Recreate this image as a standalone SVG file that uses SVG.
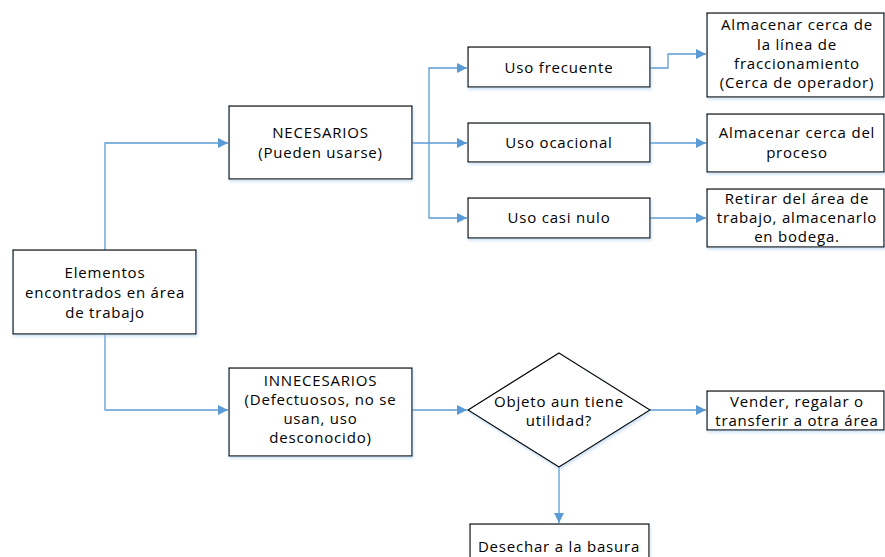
<svg xmlns="http://www.w3.org/2000/svg" width="885" height="557" viewBox="0 0 885 557">
  <defs>
    <marker id="arrow" viewBox="0 0 10 10" refX="10" refY="5" markerWidth="10" markerHeight="10" markerUnits="userSpaceOnUse" orient="auto">
      <path d="M0,0 L10,5 L0,10 Z" fill="#5B9BD5"/>
    </marker>
    <filter id="shadow" x="-10%" y="-10%" width="130%" height="140%">
      <feDropShadow dx="1" dy="2" stdDeviation="1.5" flood-color="#9DC3E6" flood-opacity="0.5"/>
    </filter>
  </defs>
  <style>
    .box { fill: #ffffff; stroke: #000000; stroke-width: 1.2; filter: url(#shadow); }
    .lbl { font-family: "Open Sans", "Liberation Sans", sans-serif; font-size: 15px; letter-spacing: 0.8px; fill: #000000; text-anchor: middle; }
    .conn { fill: none; stroke: #5B9BD5; stroke-width: 1.3; }
  </style>
  <rect width="885" height="557" fill="#ffffff"/>

  <!-- connectors -->
  <g id="connectors">
    <path class="conn" d="M105,250 V143 H228" marker-end="url(#arrow)"/>
    <path class="conn" d="M105,334 V410 H228" marker-end="url(#arrow)"/>
    <path class="conn" d="M412,143 H467" marker-end="url(#arrow)"/>
    <path class="conn" d="M429,143 V68 H467" marker-end="url(#arrow)"/>
    <path class="conn" d="M429,143 V218 H467" marker-end="url(#arrow)"/>
    <path class="conn" d="M650,68 H668 V54 H706" marker-end="url(#arrow)"/>
    <path class="conn" d="M650,143 H706" marker-end="url(#arrow)"/>
    <path class="conn" d="M650,218 H706" marker-end="url(#arrow)"/>
    <path class="conn" d="M412,410 H467" marker-end="url(#arrow)"/>
    <path class="conn" d="M650,410 H706" marker-end="url(#arrow)"/>
    <path class="conn" d="M559,467 V523" marker-end="url(#arrow)"/>
  </g>

  <g id="elementos">
    <rect class="box" x="13" y="250" width="183" height="84"/>
    <text class="lbl" x="105" y="278">Elementos</text>
    <text class="lbl" x="105" y="298">encontrados en área</text>
    <text class="lbl" x="105" y="318">de trabajo</text>
  </g>

  <g id="necesarios">
    <rect class="box" x="229" y="106" width="183" height="73"/>
    <text class="lbl" x="320.5" y="138">NECESARIOS</text>
    <text class="lbl" x="320.5" y="158">(Pueden usarse)</text>
  </g>

  <g id="uso-frecuente">
    <rect class="box" x="468" y="47" width="182" height="40"/>
    <text class="lbl" x="559" y="73">Uso frecuente</text>
  </g>

  <g id="uso-ocacional">
    <rect class="box" x="468" y="123" width="182" height="39"/>
    <text class="lbl" x="559" y="148">Uso ocacional</text>
  </g>

  <g id="uso-casi-nulo">
    <rect class="box" x="468" y="198" width="182" height="40"/>
    <text class="lbl" x="559" y="223">Uso casi nulo</text>
  </g>

  <g id="almacenar-linea">
    <rect class="box" x="707" y="13" width="177" height="84"/>
    <text class="lbl" x="797" y="30">Almacenar cerca de</text>
    <text class="lbl" x="797" y="50">la línea de</text>
    <text class="lbl" x="797" y="69">fraccionamiento</text>
    <text class="lbl" x="797" y="88">(Cerca de operador)</text>
  </g>

  <g id="almacenar-proceso">
    <rect class="box" x="707" y="114" width="177" height="58"/>
    <text class="lbl" x="797" y="138">Almacenar cerca del</text>
    <text class="lbl" x="797" y="158">proceso</text>
  </g>

  <g id="retirar">
    <rect class="box" x="707" y="189" width="177" height="58"/>
    <text class="lbl" x="797" y="204">Retirar del área de</text>
    <text class="lbl" x="797" y="223">trabajo, almacenarlo</text>
    <text class="lbl" x="797" y="242">en bodega.</text>
  </g>

  <g id="innecesarios">
    <rect class="box" x="229" y="368" width="183" height="88"/>
    <text class="lbl" x="320.5" y="386">INNECESARIOS</text>
    <text class="lbl" x="320.5" y="405">(Defectuosos, no se</text>
    <text class="lbl" x="320.5" y="424">usan, uso</text>
    <text class="lbl" x="320.5" y="443">desconocido)</text>
  </g>

  <g id="decision">
    <polygon class="box" points="559,353 650,410 559,467 468,410"/>
    <text class="lbl" x="559" y="407">Objeto aun tiene</text>
    <text class="lbl" x="559" y="426">utilidad?</text>
  </g>

  <g id="vender">
    <rect class="box" x="707" y="391" width="177" height="39"/>
    <text class="lbl" x="797" y="407">Vender, regalar o</text>
    <text class="lbl" x="797" y="426">transferir a otra área</text>
  </g>

  <g id="desechar">
    <rect class="box" x="470" y="524" width="179" height="40"/>
    <text class="lbl" x="559" y="552">Desechar a la basura</text>
  </g>
</svg>
